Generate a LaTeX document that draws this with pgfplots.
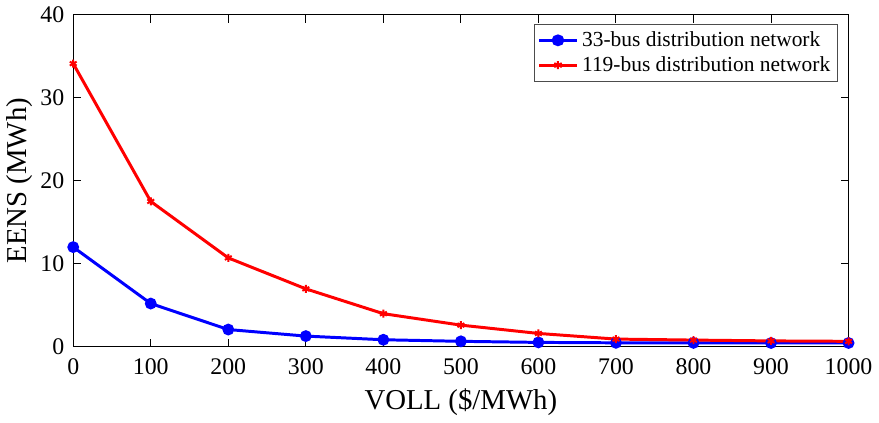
\documentclass[border=0pt]{standalone}
\usepackage{pgfplots}
\pgfplotsset{compat=1.18}
\usepackage{fontspec}
\setmainfont{Liberation Serif}
\begin{document}
\begin{tikzpicture}
\begin{axis}[
  scale only axis,
  width=390.5pt, height=167.25pt,
  xmin=0, xmax=1000, ymin=0, ymax=40,
  xtick={0,100,...,1000}, ytick={0,10,20,30,40},
  /pgf/number format/assume math mode=true,
  /pgf/number format/1000 sep={},
  scaled x ticks=false,
  tick label style={font=\fontsize{12}{14}\selectfont, black},
  xticklabel style={yshift=-2.5pt},
  yticklabel style={xshift=-1pt},
  label style={font=\fontsize{14.5}{16}\selectfont},
  xlabel={VOLL (\$/MWh)}, ylabel={EENS (MWh)},
  xlabel style={yshift=0pt},
  ylabel style={yshift=-3pt},
  tick align=inside, major tick length=4pt,
  axis line style={black, line width=0.5pt},
  every tick/.style={black, line width=0.5pt},
  legend style={at={(0.986,0.972)}, anchor=north east, draw=black!70, line width=0.5pt,
    font=\fontsize{10.8}{12.5}\selectfont, inner sep=1.5pt, row sep=-0.5pt, cells={anchor=west}},
  legend cell align=left,
  legend image post style={xscale=1.1},
]
\addplot[blue, line width=1.5pt, mark=*, mark size=2.2pt] coordinates {
(0,12.0) (100,5.2) (200,2.07) (300,1.28) (400,0.84) (500,0.65) (600,0.52) (700,0.47) (800,0.46) (900,0.45) (1000,0.45)};
\addlegendentry{33-bus distribution network}
\addplot[red, line width=1.5pt, mark=asterisk, mark size=2pt, mark options={line width=1pt}] coordinates {
(0,34.1) (100,17.5) (200,10.7) (300,6.97) (400,3.98) (500,2.6) (600,1.6) (700,0.92) (800,0.8) (900,0.7) (1000,0.65)};
\addlegendentry{119-bus distribution network}
\end{axis}
\end{tikzpicture}
\end{document}
